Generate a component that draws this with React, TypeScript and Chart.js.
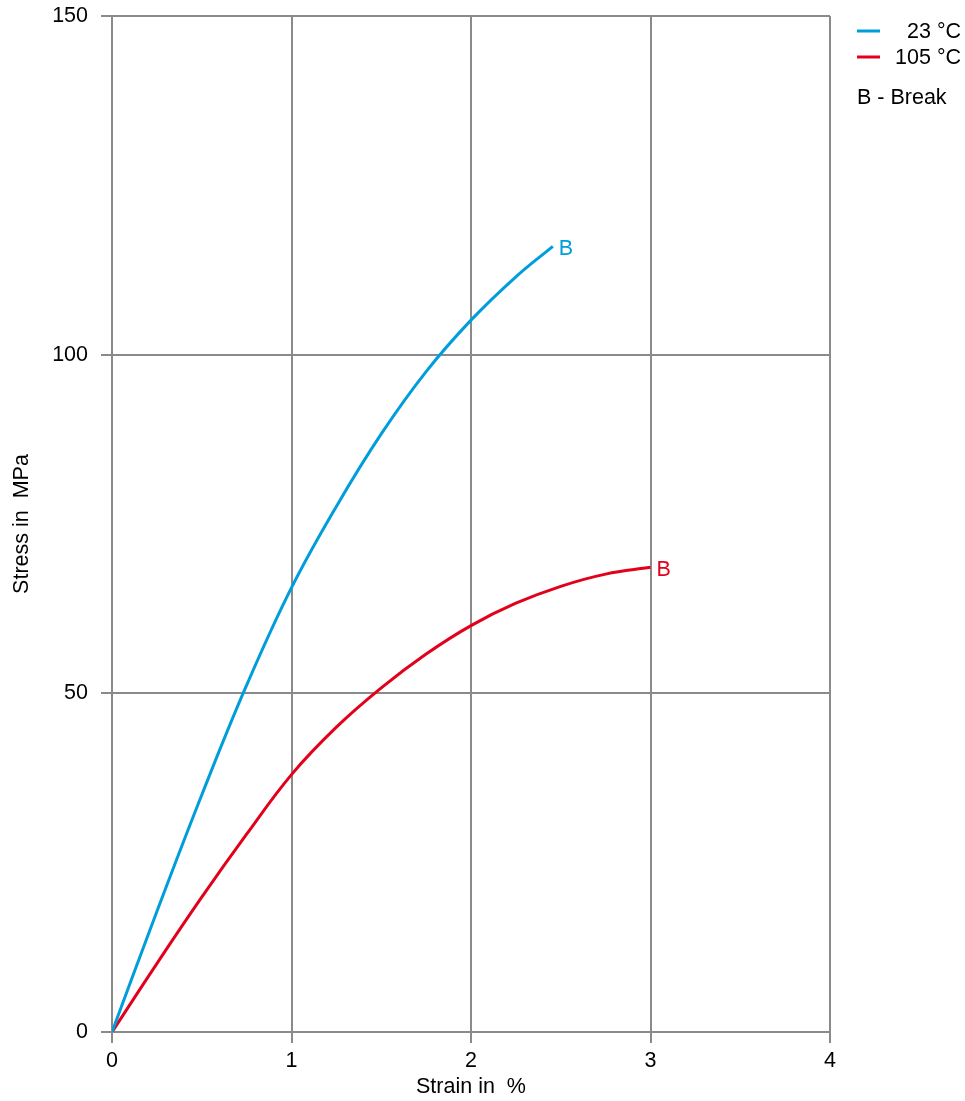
import React, { useEffect, useRef } from "react";
import { Chart, registerables } from "chart.js";

Chart.register(...registerables);

const strain23 = [0, 0.25, 0.5, 0.75, 1.0, 1.25, 1.5, 1.75, 2.0, 2.25, 2.456];
const stress23 = [0, 17.8, 35.0, 51.2, 65.6, 77.6, 88.3, 97.5, 105.1, 111.5, 116.0];
const strain105 = [0, 0.25, 0.5, 0.75, 1.0, 1.25, 1.5, 1.75, 2.0, 2.25, 2.5, 2.75, 3.0];
const stress105 = [0, 10.1, 19.9, 29.2, 38.0, 45.0, 50.8, 55.8, 60.0, 63.3, 65.8, 67.6, 68.6];
const xTicks = [0, 1, 2, 3, 4];
const yTicks = [0, 50, 100, 150];
const seriesNames = ["23 °C", "105 °C"];
const breakNote = "B - Break";
const breakMark = "B";

const BLUE = "#009ddb";
const RED = "#e2001a";
const GRID = "#8a8a8a";
const FONT = "'Liberation Sans', Arial, Helvetica, sans-serif";
const FS = 21.5;

export default function App() {
  const ref = useRef<HTMLCanvasElement | null>(null);

  useEffect(() => {
    document.body.style.margin = "0";
    const canvas = ref.current;
    if (!canvas) return;

    const labelPlugin = {
      id: "labels",
      afterDraw(chart: any) {
        const ctx = chart.ctx;
        ctx.save();
        ctx.font = `${FS}px ${FONT}`;
        ctx.textBaseline = "middle";
        chart.data.datasets.forEach((ds: any, i: number) => {
          const meta = chart.getDatasetMeta(i);
          const last = meta.data[meta.data.length - 1];
          ctx.fillStyle = ds.borderColor;
          ctx.textAlign = "left";
          ctx.fillText(breakMark, last.x + 6, last.y + 3);
        });
        const rows = [
          { c: BLUE, t: seriesNames[0], y: 31 },
          { c: RED, t: seriesNames[1], y: 57 },
        ];
        rows.forEach((r) => {
          ctx.strokeStyle = r.c;
          ctx.lineWidth = 3;
          ctx.beginPath();
          ctx.moveTo(857, r.y);
          ctx.lineTo(880, r.y);
          ctx.stroke();
          ctx.fillStyle = "#000";
          ctx.textAlign = "right";
          ctx.fillText(r.t, 961, r.y + 1);
        });
        ctx.textAlign = "left";
        ctx.fillStyle = "#000";
        ctx.fillText(breakNote, 857, 98);
        ctx.restore();
      },
    };

    const chart = new Chart(canvas, {
      type: "line",
      data: {
        datasets: [
          {
            label: seriesNames[0],
            data: strain23.map((x, i) => ({ x, y: stress23[i] })),
            borderColor: BLUE,
            borderWidth: 3,
            pointRadius: 0,
            tension: 0.4,
            fill: false,
          },
          {
            label: seriesNames[1],
            data: strain105.map((x, i) => ({ x, y: stress105[i] })),
            borderColor: RED,
            borderWidth: 3,
            pointRadius: 0,
            tension: 0.4,
            fill: false,
          },
        ],
      },
      options: {
        responsive: false,
        animation: false,
        layout: { padding: { left: 0, top: 16, right: 135, bottom: 0 } },
        plugins: { legend: { display: false }, tooltip: { enabled: false } },
        scales: {
          x: {
            type: "linear",
            min: xTicks[0],
            max: xTicks[xTicks.length - 1],
            afterBuildTicks: (s: any) => {
              s.ticks = xTicks.map((v) => ({ value: v }));
            },
            afterFit: (s: any) => {
              s.height = 69;
              s.paddingLeft = 0;
              s.paddingRight = 0;
            },
            grid: { color: GRID, lineWidth: 2, tickLength: 11, drawTicks: true },
            border: { color: GRID, width: 2 },
            ticks: { color: "#000", font: { family: FONT, size: FS }, padding: 5, maxRotation: 0 },
            title: {
              display: true,
              text: "Strain in  %",
              color: "#000",
              font: { family: FONT, size: FS },
              padding: { top: 0, bottom: 1 },
            },
          },
          y: {
            type: "linear",
            min: yTicks[0],
            max: yTicks[yTicks.length - 1],
            afterBuildTicks: (s: any) => {
              s.ticks = yTicks.map((v) => ({ value: v }));
            },
            afterFit: (s: any) => {
              s.width = 112;
              s.paddingTop = 0;
              s.paddingBottom = 0;
            },
            grid: { color: GRID, lineWidth: 2, tickLength: 11, drawTicks: true },
            border: { color: GRID, width: 2 },
            ticks: { color: "#000", font: { family: FONT, size: FS }, padding: 13 },
            title: {
              display: true,
              text: "Stress in  MPa",
              color: "#000",
              font: { family: FONT, size: FS },
              padding: { top: 9, bottom: 0 },
            },
          },
        },
      },
      plugins: [labelPlugin],
    } as any);

    return () => chart.destroy();
  }, []);

  return (
    <div style={{ width: 965, height: 1101, background: "#fff" }}>
      <canvas ref={ref} width={965} height={1101} style={{ display: "block" }} />
    </div>
  );
}
